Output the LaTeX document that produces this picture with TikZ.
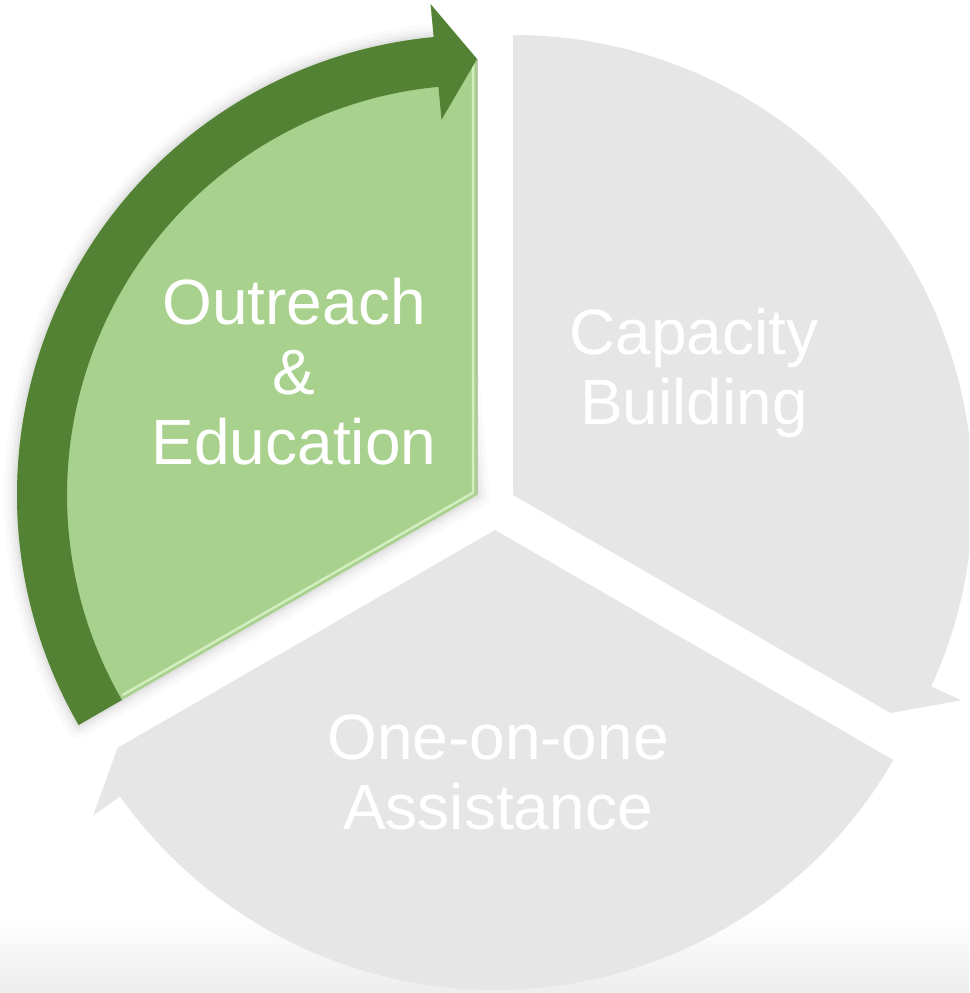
\documentclass[tikz,border=0pt]{standalone}
\usepackage{fontspec}
\setmainfont{Liberation Sans}
\usetikzlibrary{calc}
\definecolor{sgray}{HTML}{E6E6E6}
\definecolor{lgreen}{HTML}{A9D18E}
\definecolor{dgreen}{HTML}{548235}
\definecolor{bevel}{HTML}{D2EDBF}
\begin{document}
\begin{tikzpicture}[x=1pt,y=1pt,
  lbl/.style={text=white, align=center, font=\fontsize{64}{70}\selectfont, inner sep=0pt}]
\useasboundingbox (0,0) rectangle (969,-993);
\clip (0,0) rectangle (969,-993);
\fill[white] (0,0) rectangle (969,-993);
\shade[top color=white, bottom color=black!7] (0,-915) rectangle (969,-993);

\coordinate (AR) at (513,-495);
\coordinate (AB) at (495,-530);
\coordinate (AL) at (477,-495);

% right gray segment
\fill[sgray] (AR) -- ($(AR)+(-30:436)$) -- ($(AR)+(-24.6:493)$) -- ($(AR)+(-24.6:460)$)
  arc[start angle=-24.6, end angle=90, radius=460] -- cycle;
% bottom gray segment
\fill[sgray] (AB) -- ($(AB)+(-150:436)$) -- ($(AB)+(-144.6:493)$) -- ($(AB)+(-144.6:460)$)
  arc[start angle=-144.6, end angle=-30, radius=460] -- cycle;

% soft shadow of the green segment
\foreach \w/\o in {26/0.02, 18/0.025, 11/0.03, 5/0.04} {
  \draw[black, opacity=\o, line width=\w, line join=round, shift={(-5,-7)}]
    (AL) -- ($(AL)+(210:460)$) arc[start angle=210, end angle=95.4, radius=460] -- cycle;
}

% green segment
\fill[lgreen] (AL) -- ($(AL)+(90:436)$) -- ($(AL)+(95.4:493)$) -- ($(AL)+(95.4:460)$)
  arc[start angle=95.4, end angle=210, radius=460] -- cycle;
\draw[bevel, line width=2.5] ($(AL)+(-4,433)$) -- ($(AL)+(150:4.6)$) -- ++(210:405);
\draw[black!25, line width=0.8] ($(AL)+(0.5,436)$) -- ($(AL)+(0.5,0)$);

% dark green cycle arrow
\fill[dgreen] ($(AL)+(210:460)$) arc[start angle=210, end angle=95.4, radius=460]
  -- ($(AL)+(95.4:493)$) -- ($(AL)+(90:436)$) -- ($(AL)+(95.4:377)$) -- ($(AL)+(95.4:410)$)
  arc[start angle=95.4, end angle=210, radius=410] -- cycle;

\node[lbl] (oe) at (294,-372) {Outreach\\\&\\Education};
\node[lbl] (cb) at (694,-373) {Capacity\\Building};
\node[lbl] (oa) at (498,-772) {One-on-one\\Assistance};
\end{tikzpicture}
\end{document}
